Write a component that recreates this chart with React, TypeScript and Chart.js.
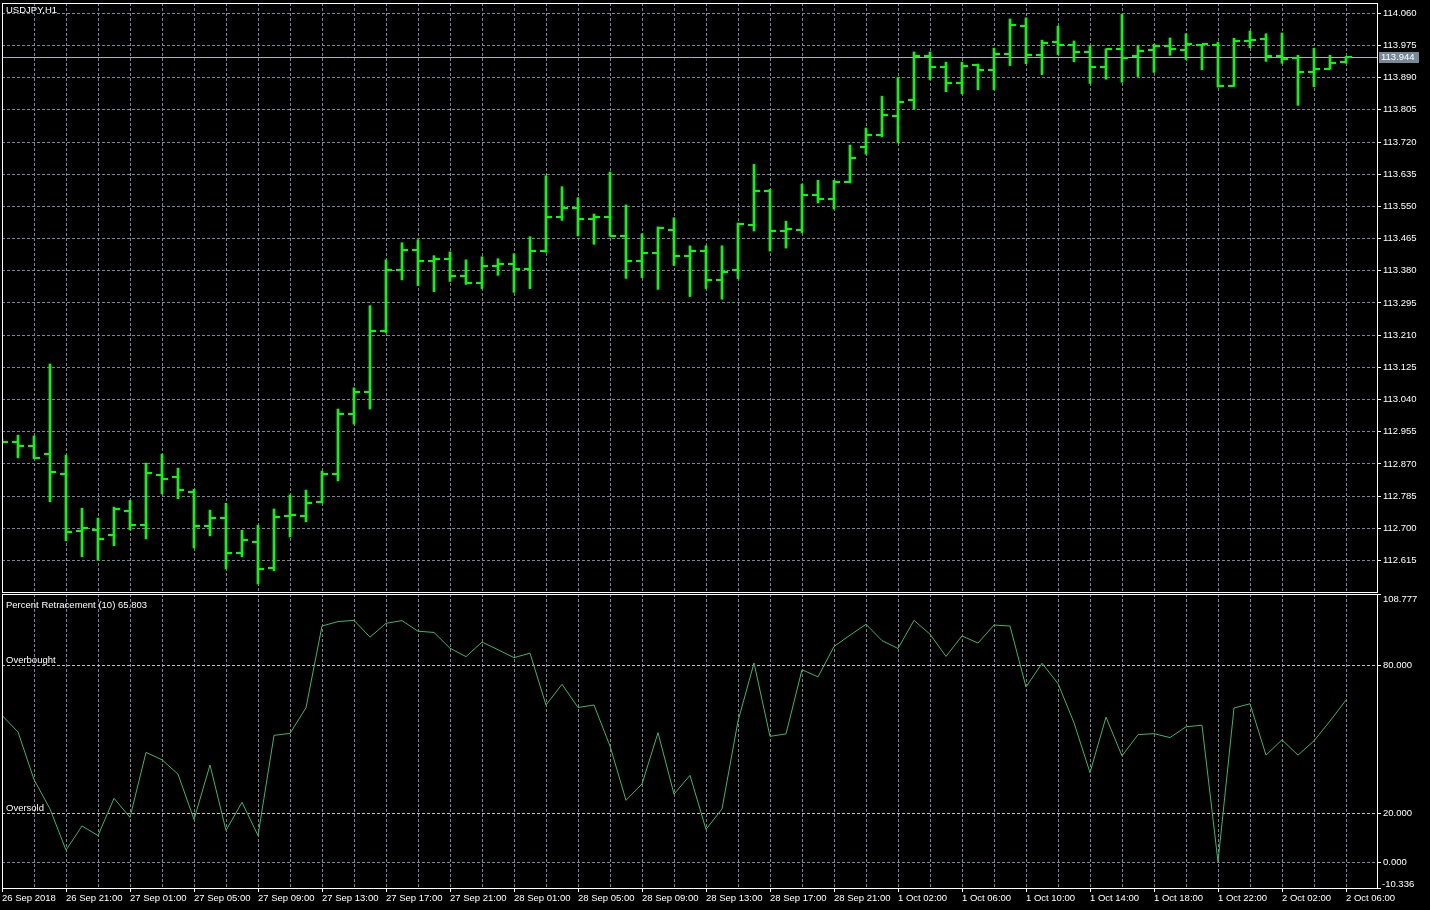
import React, { useEffect, useRef } from 'react';
import { Chart, registerables } from 'chart.js';

Chart.register(...registerables);

// ---------- DATA ----------
const symbolTitle = 'USDJPY,H1';
const indicatorName = 'Percent Retracement (10)';
const overboughtText = 'Overbought';
const oversoldText = 'Oversold';

const opens = [
  112.931, 112.929, 112.918, 112.897, 112.844, 112.693, 112.696, 112.683, 112.746, 112.709,
  112.841, 112.836, 112.796, 112.707, 112.728, 112.636, 112.664, 112.596, 112.733, 112.733,
  112.769, 112.844, 113.002, 113.060, 113.222, 113.382, 113.434, 113.407, 113.410, 113.365,
  113.347, 113.394, 113.397, 113.386, 113.431, 113.521, 113.547, 113.518, 113.521, 113.473,
  113.405, 113.426, 113.489, 113.418, 113.431, 113.357, 113.381, 113.500, 113.591, 113.485,
  113.488, 113.580, 113.570, 113.615, 113.707, 113.739, 113.789, 113.832, 113.948, 113.919,
  113.877, 113.924, 113.911, 113.953, 114.027, 113.951, 113.985, 113.977, 113.959, 113.919,
  113.967, 113.947, 113.962, 113.973, 113.962, 113.976, 113.976, 113.869, 113.986, 113.993,
  113.948, 113.942, 113.904, 113.914, 113.931,
];
const highs = [
  112.936, 112.946, 112.944, 113.134, 112.893, 112.753, 112.727, 112.756, 112.774, 112.872,
  112.896, 112.859, 112.803, 112.748, 112.766, 112.695, 112.708, 112.751, 112.788, 112.801,
  112.851, 113.015, 113.071, 113.288, 113.409, 113.454, 113.462, 113.420, 113.430, 113.409,
  113.417, 113.412, 113.425, 113.470, 113.631, 113.602, 113.573, 113.530, 113.641, 113.554,
  113.478, 113.496, 113.520, 113.446, 113.446, 113.446, 113.506, 113.661, 113.595, 113.511,
  113.609, 113.619, 113.619, 113.712, 113.757, 113.841, 113.891, 113.958, 113.958, 113.931,
  113.931, 113.926, 113.968, 114.045, 114.048, 113.989, 114.026, 113.987, 113.975, 113.966,
  114.058, 113.975, 113.978, 113.995, 114.006, 113.978, 113.984, 113.994, 114.013, 114.006,
  114.008, 113.949, 113.968, 113.949, 113.946,
];
const lows = [
  112.924, 112.886, 112.884, 112.770, 112.667, 112.625, 112.616, 112.654, 112.696, 112.672,
  112.791, 112.778, 112.648, 112.680, 112.593, 112.625, 112.553, 112.588, 112.677, 112.717,
  112.767, 112.825, 112.975, 113.015, 113.217, 113.356, 113.341, 113.325, 113.352, 113.344,
  113.333, 113.368, 113.323, 113.333, 113.429, 113.513, 113.472, 113.450, 113.471, 113.360,
  113.362, 113.331, 113.394, 113.312, 113.333, 113.305, 113.359, 113.485, 113.432, 113.440,
  113.481, 113.559, 113.543, 113.612, 113.688, 113.734, 113.718, 113.808, 113.885, 113.853,
  113.847, 113.858, 113.858, 113.922, 113.927, 113.898, 113.951, 113.932, 113.875, 113.886,
  113.878, 113.893, 113.904, 113.949, 113.938, 113.911, 113.865, 113.867, 113.969, 113.933,
  113.928, 113.817, 113.866, 113.913, 113.928,
];
const closes = [
  112.929, 112.918, 112.886, 112.849, 112.690, 112.701, 112.672, 112.752, 112.709, 112.847,
  112.831, 112.802, 112.707, 112.728, 112.636, 112.670, 112.593, 112.730, 112.736, 112.767,
  112.844, 113.003, 113.060, 113.222, 113.382, 113.434, 113.407, 113.410, 113.365, 113.347,
  113.394, 113.397, 113.386, 113.431, 113.521, 113.547, 113.518, 113.521, 113.473, 113.405,
  113.426, 113.492, 113.418, 113.431, 113.357, 113.378, 113.503, 113.591, 113.485, 113.490,
  113.580, 113.570, 113.615, 113.678, 113.739, 113.792, 113.826, 113.948, 113.919, 113.877,
  113.922, 113.911, 113.953, 114.030, 113.951, 113.982, 113.977, 113.959, 113.919, 113.965,
  113.942, 113.961, 113.973, 113.967, 113.978, 113.978, 113.867, 113.986, 113.989, 113.948,
  113.940, 113.904, 113.914, 113.928, 113.944,
];
const retracement = [
  59.6, 52.9, 33.6, 21.7, 5.0, 14.8, 10.9, 26.0, 18.3, 44.6,
  41.6, 35.8, 17.4, 39.5, 13.0, 24.4, 10.9, 51.5, 52.3, 62.7,
  95.8, 97.6, 98.1, 91.3, 96.9, 98.0, 93.7, 93.2, 86.8, 83.4,
  89.3, 86.2, 83.0, 84.8, 63.8, 72.2, 62.8, 63.8, 47.2, 25.2,
  31.8, 52.6, 27.7, 35.3, 13.4, 21.7, 57.3, 80.8, 51.1, 52.1,
  78.1, 75.2, 87.5, 92.1, 96.5, 89.9, 86.7, 98.1, 92.5, 83.5,
  91.8, 88.9, 96.2, 95.8, 71.1, 80.7, 72.5, 56.6, 36.4, 58.9,
  43.2, 51.8, 52.2, 50.6, 55.0, 55.6, 0.3, 62.6, 64.3, 43.5,
  49.7, 43.5, 49.3, 57.3, 65.803,
];

const xLabelBars = [0, 4, 8, 12, 16, 20, 24, 28, 32, 36, 40, 44, 48, 52, 56, 60, 64, 68, 72, 76, 80, 84];
const xLabelTexts = [
  '26 Sep 2018', '26 Sep 21:00', '27 Sep 01:00', '27 Sep 05:00', '27 Sep 09:00', '27 Sep 13:00',
  '27 Sep 17:00', '27 Sep 21:00', '28 Sep 01:00', '28 Sep 05:00', '28 Sep 09:00', '28 Sep 13:00',
  '28 Sep 17:00', '28 Sep 21:00', '1 Oct 02:00', '1 Oct 06:00', '1 Oct 10:00', '1 Oct 14:00',
  '1 Oct 18:00', '1 Oct 22:00', '2 Oct 02:00', '2 Oct 06:00',
];
const priceTickLabels = [
  '112.615', '112.700', '112.785', '112.870', '112.955', '113.040', '113.125', '113.210', '113.295',
  '113.380', '113.465', '113.550', '113.635', '113.720', '113.805', '113.890', '113.975', '114.060',
];
const indTickLabels = ['108.777', '80.000', '20.000', '0.000', '-10.336'];
const levels = [80, 20];
const bidPrice = 113.944;
const priceMin = 112.5318;
const priceMax = 114.0872;
const indMin = -10.336;
const indMax = 108.777;
const xMax = 85.9375;

// ---------- STYLE ----------
const BAR_COLOR = '#00FF00';
const LINE_COLOR = '#3CB371';
const GRID_COLOR = '#778899';
const LEVEL_COLOR = '#C0C0C0';
const BID_COLOR = '#A8B2BC';
const FONT_FAMILY = '"Liberation Sans", Arial, sans-serif';
const FONT_SIZE = 9.5;
const CSS_FONT = `${FONT_SIZE}px ${FONT_FAMILY}`;

const barIndex = opens.map((_, i) => i);
const gridBars: number[] = [];
for (let b = 0; b <= 84; b += 2) gridBars.push(b);

function tickImage(side: 'open' | 'close') {
  const c = document.createElement('canvas');
  c.width = 14;
  c.height = 2;
  const g = c.getContext('2d')!;
  g.fillStyle = BAR_COLOR;
  if (side === 'open') g.fillRect(1, 0, 6, 2);
  else g.fillRect(7, 0, 6, 2);
  return c;
}

const framePlugin = {
  id: 'frame',
  afterDraw(chart: any) {
    const { ctx, chartArea: a } = chart;
    ctx.save();
    ctx.strokeStyle = '#FFFFFF';
    ctx.lineWidth = 1;
    ctx.setLineDash([]);
    ctx.strokeRect(Math.round(a.left) + 0.5, Math.round(a.top) + 0.5, Math.round(a.right - a.left), Math.round(a.bottom - a.top));
    ctx.restore();
  },
};

export default function App() {
  const topRef = useRef<HTMLCanvasElement>(null);
  const botRef = useRef<HTMLCanvasElement>(null);

  useEffect(() => {
    const openImg = tickImage('open');
    const closeImg = tickImage('close');

    const topPlugin = {
      id: 'topText',
      beforeDatasetsDraw(chart: any) {
        const { ctx, chartArea: a } = chart;
        const y = Math.round(chart.scales.y.getPixelForValue(bidPrice)) + 0.5;
        ctx.save();
        ctx.strokeStyle = BID_COLOR;
        ctx.lineWidth = 1;
        ctx.beginPath();
        ctx.moveTo(a.left, y);
        ctx.lineTo(a.right, y);
        ctx.stroke();
        ctx.restore();
      },
      afterDraw(chart: any) {
        const { ctx, chartArea: a } = chart;
        const y = Math.round(chart.scales.y.getPixelForValue(bidPrice));
        ctx.save();
        ctx.font = CSS_FONT;
        ctx.fillStyle = '#FFFFFF';
        ctx.textAlign = 'left';
        ctx.textBaseline = 'middle';
        ctx.fillText(symbolTitle, 6, 10);
        ctx.fillStyle = GRID_COLOR;
        ctx.fillRect(a.right + 2, y - 5, 40, 11);
        ctx.fillStyle = '#FFFFFF';
        ctx.fillText(bidPrice.toFixed(3), a.right + 4, y + 0.5);
        ctx.restore();
      },
    };

    const botPlugin = {
      id: 'botText',
      afterDraw(chart: any) {
        const { ctx, chartArea: a } = chart;
        const ys = chart.scales.y;
        ctx.save();
        ctx.font = CSS_FONT;
        ctx.fillStyle = '#FFFFFF';
        ctx.textAlign = 'left';
        ctx.textBaseline = 'alphabetic';
        ctx.fillText(`${indicatorName} ${retracement[retracement.length - 1].toFixed(3)}`, 6, 15);
        ctx.fillText(overboughtText, 6, ys.getPixelForValue(levels[0]) - 2);
        ctx.fillText(oversoldText, 6, ys.getPixelForValue(levels[1]) - 2);
        ctx.textBaseline = 'top';
        ctx.fillText(indTickLabels[0], a.right + 6, a.top + 1);
        ctx.textBaseline = 'bottom';
        ctx.fillText(indTickLabels[indTickLabels.length - 1], a.right + 5, a.bottom + 1);
        ctx.restore();
      },
    };

    const topChart = new Chart(topRef.current!, {
      type: 'bar',
      data: {
        datasets: [
          {
            type: 'scatter',
            data: barIndex.map((i) => ({ x: i, y: opens[i] })),
            pointStyle: openImg as any,
            pointRadius: 3,
            order: 0,
          } as any,
          {
            type: 'scatter',
            data: barIndex.map((i) => ({ x: i, y: closes[i] })),
            pointStyle: closeImg as any,
            pointRadius: 3,
            order: 0,
          } as any,
          {
            type: 'bar',
            data: barIndex.map((i) => ({ x: i, y: [lows[i], highs[i]] })),
            backgroundColor: BAR_COLOR,
            borderWidth: 0,
            barThickness: 2,
            grouped: false,
            order: 1,
          } as any,
        ],
      },
      options: {
        responsive: false,
        maintainAspectRatio: false,
        devicePixelRatio: 1,
        animation: false,
        events: [],
        layout: { autoPadding: false, padding: { left: 2, top: 3, right: 0, bottom: 1 } },
        plugins: { legend: { display: false }, tooltip: { enabled: false }, title: { display: false } },
        scales: {
          x: {
            type: 'linear',
            min: 0,
            max: xMax,
            offset: false,
            grid: { color: GRID_COLOR, lineWidth: 1, drawTicks: false, offset: false },
            border: { display: false, dash: [3, 2] },
            ticks: { display: false, autoSkip: false, maxRotation: 0, minRotation: 0 },
            afterBuildTicks: (s: any) => {
              s.ticks = gridBars.map((v) => ({ value: v }));
            },
            afterFit: (s: any) => {
              s.height = 0;
              s.paddingLeft = 0;
              s.paddingRight = 0;
            },
          } as any,
          y: {
            type: 'linear',
            position: 'right',
            min: priceMin,
            max: priceMax,
            grid: { color: GRID_COLOR, lineWidth: 1, drawTicks: true, tickLength: 4, tickColor: '#FFFFFF', tickBorderDash: [] },
            border: { display: false, dash: [3, 2] },
            ticks: {
              color: '#FFFFFF',
              font: { family: FONT_FAMILY, size: FONT_SIZE },
              padding: 2,
              autoSkip: false,
              callback: (_v: any, i: number) => priceTickLabels[i],
            },
            afterBuildTicks: (s: any) => {
              s.ticks = priceTickLabels.map((t) => ({ value: parseFloat(t) }));
            },
            afterFit: (s: any) => {
              s.width = 53;
              s.paddingTop = 0;
              s.paddingBottom = 0;
            },
          } as any,
        },
      },
      plugins: [topPlugin, framePlugin],
    });

    const botChart = new Chart(botRef.current!, {
      type: 'line',
      data: {
        datasets: [
          {
            data: barIndex.map((i) => ({ x: i, y: retracement[i] })),
            borderColor: LINE_COLOR,
            borderWidth: 1,
            pointRadius: 0,
            tension: 0,
            fill: false,
          },
        ],
      },
      options: {
        responsive: false,
        maintainAspectRatio: false,
        devicePixelRatio: 1,
        animation: false,
        events: [],
        layout: { autoPadding: false, padding: { left: 2, top: 1, right: 0, bottom: 0 } },
        plugins: { legend: { display: false }, tooltip: { enabled: false }, title: { display: false } },
        scales: {
          x: {
            type: 'linear',
            min: 0,
            max: xMax,
            offset: false,
            grid: {
              color: GRID_COLOR,
              lineWidth: 1,
              drawTicks: true,
              tickLength: 4,
              tickBorderDash: [],
              offset: false,
              tickColor: (ctx: any) =>
                ctx.tick && xLabelBars.indexOf(ctx.tick.value) >= 0 ? '#FFFFFF' : 'rgba(0,0,0,0)',
            },
            border: { display: false, dash: [3, 2] },
            ticks: {
              color: '#FFFFFF',
              font: { family: FONT_FAMILY, size: FONT_SIZE },
              align: 'start',
              autoSkip: false,
              maxRotation: 0,
              minRotation: 0,
              padding: 1,
              callback: (v: any) => {
                const k = xLabelBars.indexOf(Number(v));
                return k >= 0 ? xLabelTexts[k] : '';
              },
            },
            afterBuildTicks: (s: any) => {
              s.ticks = gridBars.map((v) => ({ value: v }));
            },
            afterFit: (s: any) => {
              s.height = 22;
              s.paddingLeft = 0;
              s.paddingRight = 0;
            },
          } as any,
          y: {
            type: 'linear',
            position: 'right',
            min: indMin,
            max: indMax,
            grid: {
              lineWidth: 1,
              drawTicks: true,
              tickLength: 4,
              tickColor: '#FFFFFF',
              tickBorderDash: [],
              color: (ctx: any) => {
                const v = ctx.tick ? ctx.tick.value : NaN;
                if (levels.indexOf(v) >= 0) return LEVEL_COLOR;
                if (v === 0) return GRID_COLOR;
                return 'rgba(0,0,0,0)';
              },
            },
            border: { display: false, dash: [3, 2] },
            ticks: {
              color: '#FFFFFF',
              font: { family: FONT_FAMILY, size: FONT_SIZE },
              padding: 2,
              autoSkip: false,
              callback: (_v: any, i: number) =>
                i === 0 || i === indTickLabels.length - 1 ? '' : indTickLabels[i],
            },
            afterBuildTicks: (s: any) => {
              s.ticks = indTickLabels.map((t) => ({ value: parseFloat(t) }));
            },
            afterFit: (s: any) => {
              s.width = 53;
              s.paddingTop = 0;
              s.paddingBottom = 0;
            },
          } as any,
        },
      },
      plugins: [botPlugin, framePlugin],
    });

    return () => {
      topChart.destroy();
      botChart.destroy();
    };
  }, []);

  return (
    <div style={{ position: 'fixed', left: 0, top: 0, width: 1430, height: 910, background: '#000000', overflow: 'hidden' }}>
      <canvas ref={topRef} width={1430} height={593} style={{ position: 'absolute', left: 0, top: 0, display: 'block' }} />
      <canvas ref={botRef} width={1430} height={317} style={{ position: 'absolute', left: 0, top: 593, display: 'block' }} />
    </div>
  );
}
